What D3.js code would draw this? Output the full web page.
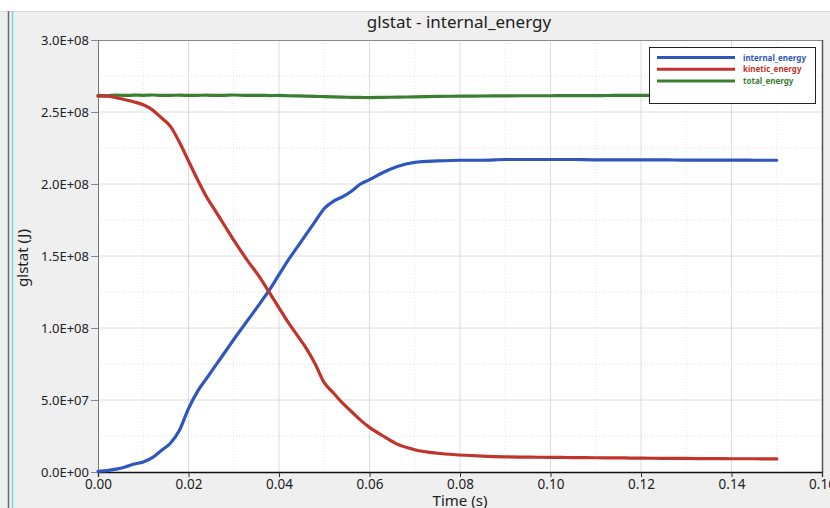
<!DOCTYPE html>
<html>
<head>
<meta charset="utf-8">
<script src="https://cdn.jsdelivr.net/npm/d3@7"></script>
<style>
  body { margin: 0; background: #fff; }
  svg { display: block; font-family: "Noto Sans", "Open Sans", sans-serif; }
</style>
</head>
<body>
<div id="chart"></div>
<script>
// time samples (s)
var times = [0, 0.002, 0.004, 0.006, 0.008, 0.010, 0.012, 0.014, 0.016, 0.018,
             0.020, 0.022, 0.024, 0.026, 0.028, 0.030, 0.033, 0.036, 0.038,
             0.040, 0.042, 0.044, 0.046, 0.048, 0.050, 0.052, 0.054, 0.056, 0.058, 0.060,
             0.063, 0.066, 0.070, 0.075,
             0.080, 0.085, 0.090, 0.095, 0.100, 0.105, 0.110, 0.115, 0.120,
             0.125, 0.130, 0.135, 0.140, 0.145, 0.150];

// energies in J (x 1e6)
var internalEnergy = [0.5, 1.0, 2.0, 3.5, 5.5, 7.0, 10, 15, 20, 29,
                      44, 56, 65, 74, 83, 92, 105, 118, 127,
                      137, 147, 156, 165, 174, 183, 188, 191, 195, 200, 203,
                      208, 212, 215, 216,
                      216.5, 216.5, 217, 217, 217, 217, 216.8, 216.8, 216.7,
                      216.7, 216.6, 216.6, 216.6, 216.5, 216.5];
var kineticEnergy = [261, 261, 260, 258.5, 257, 255, 251.5, 246, 240, 229,
                     216, 203, 191, 181, 171, 161, 147, 134, 124,
                     114, 104, 95, 86, 75, 62, 55, 48, 42, 36, 31,
                     25, 19.5, 15.5, 13,
                     11.8, 11, 10.5, 10.3, 10.2, 10, 9.9, 9.8, 9.6,
                     9.5, 9.4, 9.3, 9.2, 9.2, 9.1];
var totalEnergy = [261.5, 261.3, 261.8, 261.5, 261.7, 261.6, 261.8, 261.5, 261.6, 261.7,
                   261.5, 261.6, 261.7, 261.5, 261.6, 261.8, 261.5, 261.6, 261.4,
                   261.5, 261.3, 261.2, 261.0, 260.8, 260.7, 260.5, 260.3, 260.2, 260.1, 260.0,
                   260.2, 260.3, 260.5, 260.8,
                   261.0, 261.1, 261.2, 261.3, 261.3, 261.4, 261.4, 261.5, 261.5,
                   261.6, 261.6, 261.6, 261.6, 261.7, 261.7];

var seriesNames = ["internal_energy", "kinetic_energy", "total_energy"];
var seriesColors = ["#2f56bf", "#c0342b", "#3a7e33"];
var xTicks = [0, 0.02, 0.04, 0.06, 0.08, 0.10, 0.12, 0.14, 0.16];
var yTicks = [0, 0.5e8, 1.0e8, 1.5e8, 2.0e8, 2.5e8, 3.0e8];

var W = 830, H = 508;
var svg = d3.select("#chart").append("svg").attr("width", W).attr("height", H);

// background panels
svg.append("rect").attr("width", W).attr("height", H).attr("fill", "#fff");
svg.append("rect").attr("x", 0).attr("y", 11).attr("width", W).attr("height", H - 11).attr("fill", "#efefef");
svg.append("line").attr("x1", 0).attr("x2", W).attr("y1", 11.5).attr("y2", 11.5).attr("stroke", "#d6d6d6");
svg.append("line").attr("x1", 8.5).attr("x2", 8.5).attr("y1", 11).attr("y2", H).attr("stroke", "#6a6a6a").attr("stroke-width", 1.5);
svg.append("line").attr("x1", 12.5).attr("x2", 12.5).attr("y1", 11).attr("y2", H).attr("stroke", "#6fd6dc").attr("stroke-width", 1.5);

var pLeft = 98, pRight = 822, pTop = 40, pBottom = 472;
var x = d3.scaleLinear().domain([0, 0.16]).range([pLeft, pRight]);
var y = d3.scaleLinear().domain([0, 3.0e8]).range([pBottom, pTop]);

svg.append("rect").attr("x", pLeft).attr("y", pTop).attr("width", pRight - pLeft).attr("height", pBottom - pTop).attr("fill", "#fff");

// grid
var g = svg.append("g");
d3.range(0.01, 0.16, 0.02).forEach(function(t) {
  g.append("line").attr("x1", x(t)).attr("x2", x(t)).attr("y1", pTop).attr("y2", pBottom)
   .attr("stroke", "#e2e2e2").attr("stroke-dasharray", "1,2");
});
d3.range(0.25e8, 3.0e8, 0.5e8).forEach(function(v) {
  g.append("line").attr("x1", pLeft).attr("x2", pRight).attr("y1", y(v)).attr("y2", y(v))
   .attr("stroke", "#e2e2e2").attr("stroke-dasharray", "1,2");
});
xTicks.slice(1, -1).forEach(function(t) {
  g.append("line").attr("x1", x(t)).attr("x2", x(t)).attr("y1", pTop).attr("y2", pBottom)
   .attr("stroke", "#dcdcdc");
});
yTicks.slice(1, -1).forEach(function(v) {
  g.append("line").attr("x1", pLeft).attr("x2", pRight).attr("y1", y(v)).attr("y2", y(v))
   .attr("stroke", "#dcdcdc");
});

// border
svg.append("line").attr("x1", pLeft).attr("x2", pRight).attr("y1", pTop + 0.5).attr("y2", pTop + 0.5).attr("stroke", "#8a8a8a");
svg.append("line").attr("x1", pRight + 0.5).attr("x2", pRight + 0.5).attr("y1", pTop).attr("y2", pBottom).attr("stroke", "#555").attr("stroke-width", 1.5);

function sci(v) {
  if (v === 0) return "0.0E+00";
  var e = Math.floor(Math.log10(v) + 1e-9);
  var m = v / Math.pow(10, e);
  return m.toFixed(1) + "E+" + (e < 10 ? "0" + e : e);
}

// axes
var yAxis = svg.append("g").attr("transform", "translate(" + pLeft + ",0)")
  .call(d3.axisLeft(y).tickValues(yTicks).tickFormat(sci).tickSize(7).tickPadding(2));
yAxis.select(".domain").attr("stroke", "#777");
yAxis.selectAll(".tick line").attr("stroke", "#888");
yAxis.selectAll("text").attr("font-size", "13px").attr("fill", "#222").attr("font-family", "Noto Sans");

var xAxis = svg.append("g").attr("transform", "translate(0," + pBottom + ")")
  .call(d3.axisBottom(x).tickValues(xTicks).tickFormat(d3.format(".2f")).tickSize(5).tickPadding(2));
xAxis.select(".domain").attr("stroke", "#111").attr("stroke-width", 1.3);
xAxis.selectAll(".tick line").attr("stroke", "#333");
xAxis.selectAll("text").attr("font-size", "13.5px").attr("fill", "#222").attr("font-family", "Noto Sans");

// lines
var series = [internalEnergy, kineticEnergy, totalEnergy];
var line = d3.line()
  .x(function(d, i) { return x(times[i]); })
  .y(function(d) { return y(d * 1e6); })
  .curve(d3.curveMonotoneX);

[2, 0, 1].forEach(function(k) {
  svg.append("path").datum(series[k])
    .attr("fill", "none")
    .attr("stroke", seriesColors[k])
    .attr("stroke-width", 3.2)
    .attr("stroke-linejoin", "round")
    .attr("stroke-linecap", "round")
    .attr("d", line);
});

// titles
svg.append("text").attr("x", 459).attr("y", 28).attr("text-anchor", "middle")
  .attr("font-size", "17px").attr("fill", "#222").text("glstat - internal_energy");
svg.append("text").attr("x", 460).attr("y", 506).attr("text-anchor", "middle")
  .attr("font-size", "15px").attr("fill", "#222").text("Time (s)");
svg.append("text").attr("transform", "translate(28,258) rotate(-90)").attr("text-anchor", "middle")
  .attr("font-size", "15px").attr("fill", "#222").text("glstat (J)");

// legend
var lg = svg.append("g").attr("transform", "translate(649,47)");
lg.append("rect").attr("x", 0.5).attr("y", 0.5).attr("width", 166).attr("height", 56)
  .attr("fill", "#fff").attr("stroke", "#222").attr("stroke-width", 1);
seriesNames.forEach(function(n, i) {
  var yy = 10.5 + i * 11.7;
  lg.append("line").attr("x1", 8).attr("x2", 86).attr("y1", yy).attr("y2", yy)
    .attr("stroke", seriesColors[i]).attr("stroke-width", 3);
  lg.append("text").attr("x", 94).attr("y", yy + 3).attr("font-size", "8px").attr("font-weight", "bold")
    .attr("fill", seriesColors[i]).text(n);
});
</script>
</body>
</html>
